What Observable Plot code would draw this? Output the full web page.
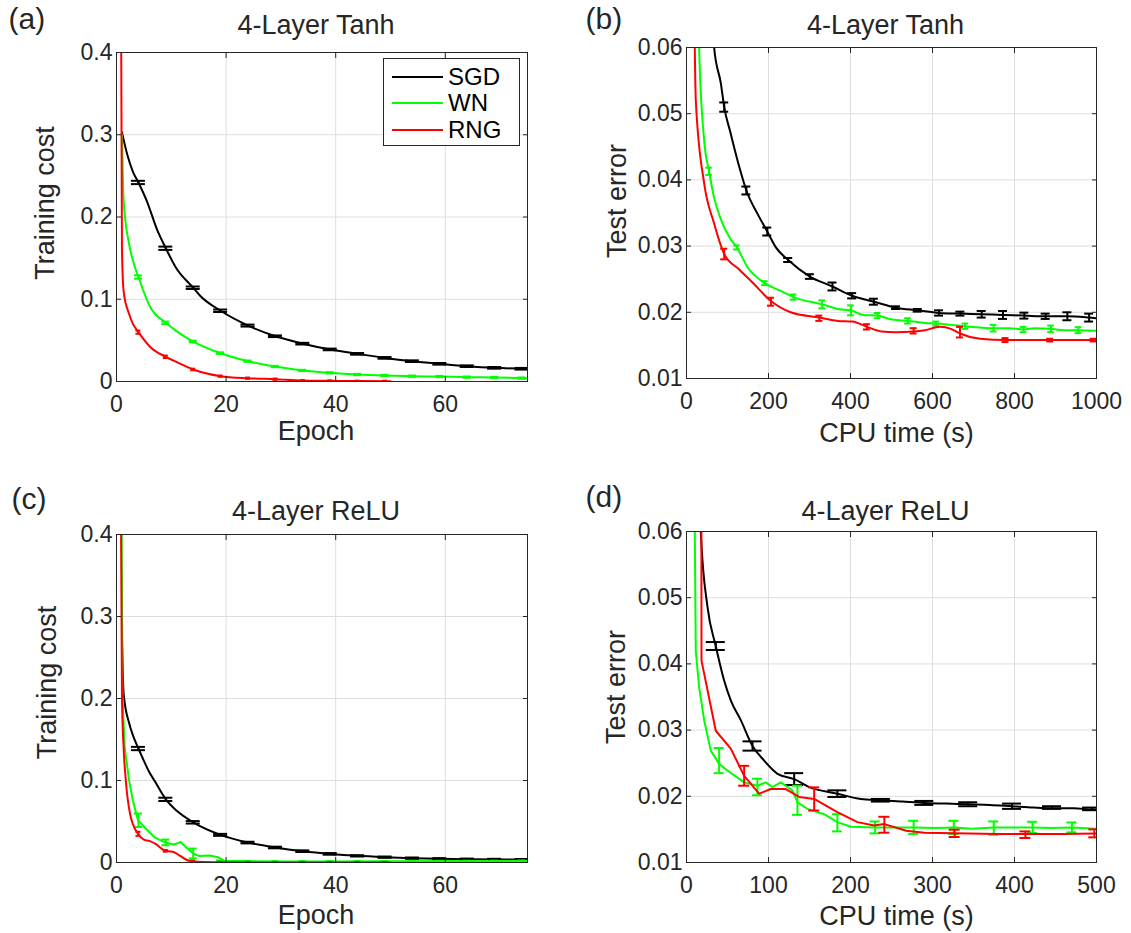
<!DOCTYPE html>
<html><head><meta charset="utf-8">
<script src="https://cdn.jsdelivr.net/npm/d3@7"></script>
<script src="https://cdn.jsdelivr.net/npm/@observablehq/plot@0.6"></script>
<style>
body{margin:0;background:#fff;}
#wrap{position:relative;width:1131px;height:933px;font-family:"Liberation Sans",Arial,Helvetica,sans-serif;color:#262626;background:#fff;overflow:hidden;}
#wrap svg{position:absolute;overflow:visible;}
.legend{position:absolute;left:383px;top:58px;width:137px;height:88px;border:1px solid #262626;background:#fff;box-sizing:border-box;}
.legend .row{position:absolute;left:0;height:0;}
.legend .ln{position:absolute;left:8px;width:51px;height:2px;top:-1px;}
.legend .tx{position:absolute;left:64px;top:-14px;font-size:24px;line-height:28px;color:#000;white-space:nowrap;}
</style></head>
<body><div id="wrap"></div>
<script>
// ---------- categories / labels ----------
const methods = ["SGD", "WN", "RNG"];
const colors = ["#000000", "#00ff00", "#ff0000"];
const panelLetters = ["(a)", "(b)", "(c)", "(d)"];
const panelTitles = ["4-Layer Tanh", "4-Layer Tanh", "4-Layer ReLU", "4-Layer ReLU"];
const xLabels = ["Epoch", "CPU time (s)", "Epoch", "CPU time (s)"];
const yLabels = ["Training cost", "Test error", "Training cost", "Test error"];
const epochTicks = [0, 20, 40, 60];
const costTicks = [0, 0.1, 0.2, 0.3, 0.4];
const timeTicksB = [0, 200, 400, 600, 800, 1000];
const timeTicksD = [0, 100, 200, 300, 400, 500];
const errTicks = [0.01, 0.02, 0.03, 0.04, 0.05, 0.06];

// ---------- (a) 4-Layer Tanh, training cost vs epoch ----------
const a_sgd_x = [1, 2, 3, 4, 5.5, 7.5, 9, 10.8, 14, 15.3, 19, 24, 29, 34, 39, 44, 49, 54, 59, 64, 69, 75];
const a_sgd_y = [0.303, 0.275, 0.255, 0.242, 0.22, 0.183, 0.162, 0.139, 0.114, 0.104, 0.086, 0.068, 0.055, 0.046, 0.039, 0.0336, 0.0287, 0.0247, 0.0215, 0.0186, 0.0166, 0.0154];
const a_sgd_ex = [4, 9, 14, 19, 24, 29, 34, 39, 44, 49, 54, 59, 64, 69, 74];
const a_sgd_ey = [0.242, 0.162, 0.114, 0.086, 0.068, 0.055, 0.046, 0.039, 0.0336, 0.0287, 0.0247, 0.0215, 0.0186, 0.0166, 0.0155];
const a_sgd_eh = [0.002, 0.002, 0.0015, 0.0015, 0.0012, 0.001, 0.001, 0.001, 0.001, 0.001, 0.001, 0.001, 0.001, 0.001, 0.001];
const a_wn_x = [1, 1.3, 2.3, 3, 4, 6.2, 9, 11, 14, 19, 24, 29, 34, 39, 44, 49, 54, 59, 64, 69, 75];
const a_wn_y = [0.30, 0.22, 0.167, 0.147, 0.127, 0.09, 0.0713, 0.061, 0.0486, 0.0344, 0.0247, 0.0182, 0.0134, 0.0105, 0.0085, 0.0073, 0.0065, 0.006, 0.0053, 0.0049, 0.004];
const a_wn_ex = [4, 9, 14, 19, 24, 29, 34, 39, 44, 49, 54, 59, 64, 69, 74];
const a_wn_ey = [0.127, 0.0713, 0.0486, 0.0344, 0.0247, 0.0182, 0.0134, 0.0105, 0.0085, 0.0073, 0.0065, 0.006, 0.0053, 0.0049, 0.0041];
const a_wn_eh = [0.002, 0.0015, 0.001, 0.001, 0.0008, 0.0008, 0.0008, 0.0008, 0.0008, 0.0008, 0.0008, 0.0008, 0.0008, 0.0008, 0.0008];
const a_rng_x = [0.75, 1.0, 1.3, 2.3, 3, 4, 6.2, 9, 11, 14, 19, 24, 29, 34, 39, 44, 50];
const a_rng_y = [0.6, 0.16, 0.11, 0.082, 0.07, 0.06, 0.0417, 0.030, 0.0235, 0.0146, 0.0065, 0.004, 0.0028, 0.0012, 0.0008, 0.0005, 0.0004];
const a_rng_ex = [4, 9, 14, 19, 24, 29, 34, 39, 44, 49];
const a_rng_ey = [0.06, 0.030, 0.0146, 0.0065, 0.004, 0.0028, 0.0012, 0.0008, 0.0005, 0.0004];
const a_rng_eh = [0.002, 0.0015, 0.001, 0.0008, 0.0008, 0.0008, 0.0006, 0.0006, 0.0006, 0.0006];

// ---------- (b) 4-Layer Tanh, test error vs CPU time ----------
const b_sgd_x = [60, 67.4, 84, 92, 107, 129, 146, 173, 197, 218, 248, 301, 356, 404, 457, 511, 564, 616, 668, 720, 772, 824, 876, 929, 982, 1000];
const b_sgd_y = [0.066, 0.06, 0.0545, 0.051, 0.0472, 0.0419, 0.0384, 0.0349, 0.0322, 0.0298, 0.0279, 0.0254, 0.0239, 0.0225, 0.0216, 0.0207, 0.0203, 0.0199, 0.0198, 0.0197, 0.0196, 0.0195, 0.0194, 0.0194, 0.0192, 0.0191];
const b_sgd_ex = [92, 146, 197, 248, 301, 356, 404, 457, 511, 564, 616, 668, 720, 772, 824, 876, 929, 982];
const b_sgd_ey = [0.051, 0.0384, 0.0322, 0.0279, 0.0254, 0.0239, 0.0225, 0.0216, 0.0207, 0.0203, 0.0199, 0.0198, 0.0197, 0.0196, 0.0195, 0.0194, 0.0194, 0.0192];
const b_sgd_eh = [0.0007, 0.0006, 0.0006, 0.0003, 0.00035, 0.0006, 0.0004, 0.00045, 0.0002, 0.0002, 0.0004, 0.0003, 0.0005, 0.0006, 0.00045, 0.0004, 0.0006, 0.0006];
const b_wn_x = [28, 30.8, 43, 55, 67, 84, 108, 123, 149, 191, 227, 261, 316, 331, 369, 401, 431, 466, 502, 540, 582, 609, 645, 680, 716, 749, 787, 822, 849, 889, 920, 956, 1000];
const b_wn_y = [0.068, 0.06, 0.046, 0.0413, 0.0374, 0.034, 0.031, 0.0298, 0.0268, 0.0244, 0.0233, 0.0223, 0.0214, 0.0212, 0.0205, 0.0203, 0.0196, 0.0195, 0.0189, 0.0187, 0.0184, 0.0183, 0.0181, 0.0179, 0.0177, 0.0176, 0.0176, 0.0174, 0.0176, 0.0175, 0.0173, 0.0173, 0.0172];
const b_wn_ex = [55, 123, 191, 261, 331, 401, 466, 540, 609, 680, 749, 822, 889, 956];
const b_wn_ey = [0.0413, 0.0298, 0.0244, 0.0223, 0.0212, 0.0203, 0.0195, 0.0187, 0.0183, 0.0179, 0.0176, 0.0174, 0.0175, 0.0173];
const b_wn_eh = [0.00055, 0.0003, 0.0003, 0.0004, 0.0006, 0.00075, 0.0004, 0.0004, 0.0003, 0.0004, 0.0005, 0.0004, 0.0005, 0.00045];
const b_rng_x = [18, 20.2, 22.7, 43, 67, 92, 128, 161, 206, 254, 324, 369, 405, 440, 476, 511, 554, 582, 618, 645, 667, 716, 778, 831, 887, 938, 993, 1000];
const b_rng_y = [0.072, 0.06, 0.052, 0.0395, 0.0335, 0.0288, 0.0265, 0.0245, 0.0217, 0.02, 0.0192, 0.0187, 0.0186, 0.0178, 0.0171, 0.017, 0.0171, 0.0173, 0.0178, 0.0175, 0.0168, 0.016, 0.0158, 0.0158, 0.0158, 0.0158, 0.0158, 0.0158];
const b_rng_ex = [92, 206, 324, 440, 554, 667, 778, 887, 993];
const b_rng_ey = [0.0288, 0.0216, 0.0191, 0.0178, 0.0172, 0.017, 0.0158, 0.0158, 0.0158];
const b_rng_eh = [0.0008, 0.0006, 0.0004, 0.0004, 0.0004, 0.0008, 0.0003, 0.0002, 0.0002];

// ---------- (c) 4-Layer ReLU, training cost vs epoch ----------
const c_sgd_x = [1, 1.3, 2.3, 3, 4, 5, 6, 7, 9, 11, 14, 19, 24, 29, 34, 39, 44, 49, 54, 59, 64, 69, 75];
const c_sgd_y = [0.275, 0.206, 0.17, 0.155, 0.139, 0.124, 0.11, 0.099, 0.077, 0.063, 0.049, 0.0337, 0.0243, 0.0183, 0.0138, 0.0105, 0.0081, 0.0065, 0.0053, 0.0045, 0.004, 0.0037, 0.0035];
const c_sgd_ex = [4, 9, 14, 19, 24, 29, 34, 39, 44, 49, 54, 59, 64, 69, 74];
const c_sgd_ey = [0.139, 0.077, 0.049, 0.0337, 0.0243, 0.0183, 0.0138, 0.0105, 0.0081, 0.0065, 0.0053, 0.0045, 0.004, 0.0037, 0.0035];
const c_sgd_eh = [0.002, 0.002, 0.0015, 0.0012, 0.001, 0.001, 0.001, 0.001, 0.0008, 0.0008, 0.0008, 0.0008, 0.0008, 0.0008, 0.0008];
const c_wn_x = [0.9, 1.1, 1.5, 2.3, 3, 3.9, 5.1, 6.9, 9, 10.5, 11.7, 12.8, 14, 15, 17, 18.5, 19.7, 25, 30, 40, 50, 60, 75];
const c_wn_y = [0.45, 0.2, 0.14, 0.1, 0.075, 0.052, 0.043, 0.031, 0.024, 0.022, 0.025, 0.018, 0.011, 0.008, 0.0085, 0.0065, 0.002, 0.0015, 0.0012, 0.0012, 0.0015, 0.0018, 0.002];
const c_wn_ex = [4, 9, 14, 19, 24, 29, 34, 39, 44, 49, 54, 59, 64, 69, 74];
const c_wn_ey = [0.0515, 0.0245, 0.011, 0.002, 0.0015, 0.0012, 0.0012, 0.0012, 0.0012, 0.0015, 0.0016, 0.0017, 0.0018, 0.0019, 0.002];
const c_wn_eh = [0.0082, 0.0035, 0.006, 0.0006, 0.0004, 0.0004, 0.0004, 0.0004, 0.0004, 0.0004, 0.0004, 0.0004, 0.0004, 0.0004, 0.0004];
const c_rng_x = [0.8, 1.0, 1.3, 1.7, 2.45, 3.9, 5.0, 6.0, 7.2, 8.7, 9.6, 10.5, 11.7, 12.95, 13.9, 16, 20, 30, 40, 50];
const c_rng_y = [0.45, 0.2, 0.14, 0.1, 0.06, 0.035, 0.028, 0.0263, 0.0223, 0.015, 0.0137, 0.0125, 0.0077, 0.0028, 0.0014, 0.0005, 0.0002, 0.0001, 0.0001, 0.0001];
const c_rng_ex = [4, 9, 14, 19, 24, 29, 34, 39, 44, 49];
const c_rng_ey = [0.035, 0.0142, 0.0014, 0.0003, 0.0002, 0.0001, 0.0001, 0.0001, 0.0001, 0.0001];
const c_rng_eh = [0.0025, 0.001, 0.001, 0.0005, 0.0005, 0.0005, 0.0005, 0.0005, 0.0005, 0.0005];

// ---------- (d) 4-Layer ReLU, test error vs CPU time ----------
const d_sgd_x = [16, 17.4, 25.6, 35.7, 45.9, 54, 66.2, 80.5, 94.7, 111, 131.3, 151.6, 184, 212.5, 237, 263.5, 290, 317, 343.5, 370, 397, 423.5, 445.7, 472.4, 494.6, 500];
const d_sgd_y = [0.068, 0.06, 0.0486, 0.0427, 0.0375, 0.0345, 0.0315, 0.0276, 0.0254, 0.0234, 0.0226, 0.0213, 0.0204, 0.0196, 0.0194, 0.0192, 0.019, 0.0189, 0.0188, 0.0187, 0.0185, 0.0183, 0.0182, 0.0182, 0.018, 0.018];
const d_sgd_ex = [35.7, 80.5, 131.3, 184, 237, 290, 343.5, 397, 445.7, 494.6];
const d_sgd_ey = [0.0427, 0.0276, 0.0226, 0.0204, 0.0194, 0.019, 0.0188, 0.0185, 0.0183, 0.0181];
const d_sgd_eh = [0.0006, 0.0007, 0.0009, 0.0005, 0.0002, 0.0003, 0.0003, 0.0004, 0.0002, 0.0002];
const d_wn_x = [9.5, 10.1, 11.3, 15.4, 21.5, 29.6, 39.8, 50, 70.3, 86.5, 96.7, 104.8, 115, 129.2, 135.3, 147.5, 167.8, 184, 200.4, 228.8, 245.8, 277, 303.5, 326, 348, 374.7, 401.3, 422, 445.7, 470, 500];
const d_wn_y = [0.08, 0.06, 0.042, 0.0365, 0.0315, 0.0269, 0.0249, 0.0239, 0.0221, 0.0216, 0.0221, 0.0214, 0.0221, 0.0209, 0.0191, 0.0181, 0.0173, 0.0161, 0.0154, 0.0153, 0.0153, 0.0153, 0.0152, 0.0153, 0.0151, 0.0153, 0.0153, 0.0153, 0.0152, 0.0153, 0.0151];
const d_wn_ex = [39.8, 86.5, 135.3, 184, 230, 277, 326, 374.7, 422, 470];
const d_wn_ey = [0.0254, 0.0214, 0.0194, 0.016, 0.0153, 0.0153, 0.0153, 0.0152, 0.0153, 0.0153];
const d_wn_eh = [0.0019, 0.00125, 0.0022, 0.0013, 0.0009, 0.001, 0.001, 0.001, 0.00085, 0.00075];
const d_rng_x = [18, 18.3, 35.7, 54, 70.3, 88.6, 102.8, 121.1, 137.4, 155.7, 184, 208.5, 228.8, 241.3, 268, 290, 327, 379, 413.3, 460, 500];
const d_rng_y = [0.08, 0.0405, 0.0299, 0.0272, 0.0231, 0.0204, 0.0211, 0.0211, 0.0199, 0.0196, 0.0176, 0.0161, 0.0156, 0.0158, 0.0148, 0.0145, 0.0144, 0.0143, 0.0143, 0.0143, 0.0144];
const d_rng_ex = [70.3, 155.7, 241.3, 327, 413.3, 497.3];
const d_rng_ey = [0.0231, 0.0196, 0.0157, 0.0144, 0.0142, 0.0144];
const d_rng_eh = [0.0015, 0.00175, 0.0012, 0.00055, 0.0005, 0.0006];

// ---------- helpers ----------
const FONT = '"Liberation Sans", Arial, Helvetica, sans-serif';
const INK = "#262626";
const GRID = "#dedede";
const fmt = d => String(d);

function seriesMarks(xs, ys, ex, ey, eh, color, capHalf, curve) {
  const line = xs.map((x, i) => ({x, y: ys[i]}));
  const err = ex.map((x, i) => ({x, lo: ey[i] - eh[i], hi: ey[i] + eh[i]}));
  return [
    Plot.line(line, {x: "x", y: "y", stroke: color, strokeWidth: 2, curve, clip: true}),
    Plot.ruleX(err, {x: "x", y1: "lo", y2: "hi", stroke: color, strokeWidth: 2, clip: true}),
    Plot.ruleY(err, {y: "lo", x1: "x", x2: "x", insetLeft: -capHalf, insetRight: -capHalf, stroke: color, strokeWidth: 2, clip: true}),
    Plot.ruleY(err, {y: "hi", x1: "x", x2: "x", insetLeft: -capHalf, insetRight: -capHalf, stroke: color, strokeWidth: 2, clip: true})
  ];
}

function makePanel(o) {
  const t = d => d;
  const svg = Plot.plot({
    width: o.width, height: o.height,
    marginLeft: o.m[0], marginTop: o.m[1], marginRight: o.m[2], marginBottom: o.m[3],
    x: {domain: o.xDomain},
    y: {domain: o.yDomain},
    style: {fontFamily: FONT, fontSize: "23px", color: INK, background: "transparent", overflow: "visible"},
    marks: [
      Plot.gridX(o.xTicks, {stroke: GRID, strokeOpacity: 1, strokeWidth: 1}),
      Plot.gridY(o.yTicks, {stroke: GRID, strokeOpacity: 1, strokeWidth: 1}),
      ...o.series,
      Plot.axisX(o.xTicks, {anchor: "bottom", tickSize: -5, tickPadding: 19, fontSize: 23, tickFormat: fmt, label: null, stroke: INK, fill: INK}),
      Plot.axisX(o.xTicks, {anchor: "top", tickSize: -5, tickFormat: () => "", label: null, stroke: INK}),
      Plot.axisY(o.yTicks, {anchor: "left", tickSize: -5, tickPadding: 9, fontSize: 23, tickFormat: fmt, label: null, stroke: INK, fill: INK}),
      Plot.axisY(o.yTicks, {anchor: "right", tickSize: -5, tickFormat: () => "", label: null, stroke: INK}),
      Plot.frame({stroke: INK, strokeWidth: 1}),
      Plot.text([o.letter], {text: t, frameAnchor: "top-left", textAnchor: "start", lineAnchor: "bottom", dx: o.letterD[0], dy: o.letterD[1], fontSize: 30, fill: INK}),
      Plot.text([o.title], {text: t, frameAnchor: "top", textAnchor: "middle", lineAnchor: "bottom", dx: o.titleD[0], dy: o.titleD[1], fontSize: 27, fill: INK}),
      Plot.text([o.xLabel], {text: t, frameAnchor: "bottom", textAnchor: "middle", lineAnchor: "bottom", dx: o.xLabD[0], dy: o.xLabD[1], fontSize: 27, fill: INK}),
      Plot.text([o.yLabel], {text: t, frameAnchor: "left", textAnchor: "middle", lineAnchor: "bottom", rotate: -90, dx: o.yLabD[0], dy: o.yLabD[1], fontSize: 27, fill: INK})
    ]
  });
  svg.style.left = o.left + "px";
  svg.style.top = o.top + "px";
  return svg;
}

const wrap = document.getElementById("wrap");

// (a)
wrap.appendChild(makePanel({
  left: 0, top: 0, width: 565, height: 470, m: [116, 52, 38, 89],
  xDomain: [0, 75], yDomain: [0, 0.4], xTicks: epochTicks, yTicks: costTicks,
  letter: panelLetters[0], title: panelTitles[0], xLabel: xLabels[0], yLabel: yLabels[0],
  letterD: [-108, -24], titleD: [-6, -19], xLabD: [-6, 58], yLabD: [-63, -14],
  series: [
    ...seriesMarks(a_sgd_x, a_sgd_y, a_sgd_ex, a_sgd_ey, a_sgd_eh, colors[0], 7, "monotone-x"),
    ...seriesMarks(a_wn_x, a_wn_y, a_wn_ex, a_wn_ey, a_wn_eh, colors[1], 4, "monotone-x"),
    ...seriesMarks(a_rng_x, a_rng_y, a_rng_ex, a_rng_ey, a_rng_eh, colors[2], 2.5, "monotone-x")
  ]
}));

// (b)
wrap.appendChild(makePanel({
  left: 565, top: 0, width: 566, height: 470, m: [121, 47, 35, 92],
  xDomain: [0, 1000], yDomain: [0.01, 0.06], xTicks: timeTicksB, yTicks: errTicks,
  letter: panelLetters[1], title: panelTitles[1], xLabel: xLabels[1], yLabel: yLabels[1],
  letterD: [-101, -19], titleD: [-6, -14], xLabD: [5, 63], yLabD: [-61, -12],
  series: [
    ...seriesMarks(b_sgd_x, b_sgd_y, b_sgd_ex, b_sgd_ey, b_sgd_eh, colors[0], 4.5, "monotone-x"),
    ...seriesMarks(b_wn_x, b_wn_y, b_wn_ex, b_wn_ey, b_wn_eh, colors[1], 3.3, "monotone-x"),
    ...seriesMarks(b_rng_x, b_rng_y, b_rng_ex, b_rng_ey, b_rng_eh, colors[2], 3.5, "monotone-x")
  ]
}));

// (c)
wrap.appendChild(makePanel({
  left: 0, top: 470, width: 565, height: 463, m: [116, 64, 38, 71],
  xDomain: [0, 75], yDomain: [0, 0.4], xTicks: epochTicks, yTicks: costTicks,
  letter: panelLetters[2], title: panelTitles[2], xLabel: xLabels[2], yLabel: yLabels[2],
  letterD: [-105, -26], titleD: [-6, -15], xLabD: [-6, 61], yLabD: [-61, -16],
  series: [
    ...seriesMarks(c_sgd_x, c_sgd_y, c_sgd_ex, c_sgd_ey, c_sgd_eh, colors[0], 7, "monotone-x"),
    ...seriesMarks(c_wn_x, c_wn_y, c_wn_ex, c_wn_ey, c_wn_eh, colors[1], 4, "linear"),
    ...seriesMarks(c_rng_x, c_rng_y, c_rng_ex, c_rng_ey, c_rng_eh, colors[2], 2.5, "monotone-x")
  ]
}));

// (d)
wrap.appendChild(makePanel({
  left: 565, top: 470, width: 566, height: 463, m: [121, 61, 35, 71],
  xDomain: [0, 500], yDomain: [0.01, 0.06], xTicks: timeTicksD, yTicks: errTicks,
  letter: panelLetters[3], title: panelTitles[3], xLabel: xLabels[3], yLabel: yLabels[3],
  letterD: [-101, -25], titleD: [-6, -12], xLabD: [5, 62], yLabD: [-62, -10],
  series: [
    ...seriesMarks(d_sgd_x, d_sgd_y, d_sgd_ex, d_sgd_ey, d_sgd_eh, colors[0], 9.5, "monotone-x"),
    ...seriesMarks(d_wn_x, d_wn_y, d_wn_ex, d_wn_ey, d_wn_eh, colors[1], 5, "linear"),
    ...seriesMarks(d_rng_x, d_rng_y, d_rng_ex, d_rng_ey, d_rng_eh, colors[2], 5.5, "linear")
  ]
}));

// legend for (a)
const legend = document.createElement("div");
legend.className = "legend";
const rowTops = [18, 44, 71];
methods.forEach((m, i) => {
  const row = document.createElement("div");
  row.className = "row";
  row.style.top = rowTops[i] + "px";
  const ln = document.createElement("div");
  ln.className = "ln";
  ln.style.background = colors[i];
  const tx = document.createElement("div");
  tx.className = "tx";
  tx.textContent = m;
  row.appendChild(ln); row.appendChild(tx);
  legend.appendChild(row);
});
wrap.appendChild(legend);
</script>
</body></html>
